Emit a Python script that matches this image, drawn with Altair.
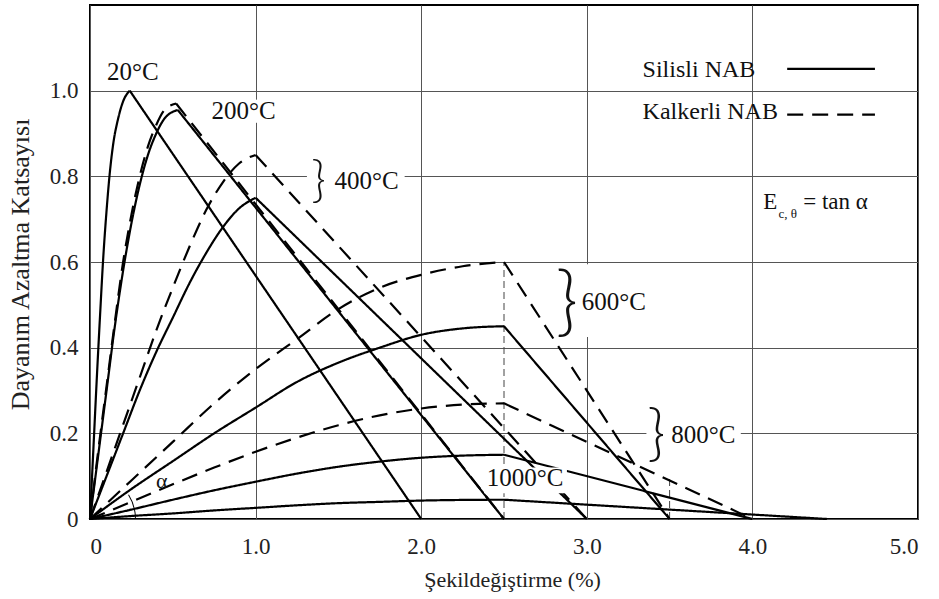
import altair as alt
import pandas as pd

FONT = "Liberation Serif"

# ---- curve data (strain %, strength reduction factor) ----
# 20°C (silisli & kalkerli coincide)
c20_x = [0, 0.02, 0.04, 0.06, 0.08, 0.10, 0.12, 0.14, 0.17, 0.20, 0.24]
c20_y = [0, 0.16, 0.32, 0.47, 0.61, 0.72, 0.81, 0.875, 0.935, 0.975, 1.0]
c20_end = 2.0

s200_x = [0, 0.05, 0.10, 0.15, 0.20, 0.25, 0.30, 0.35, 0.40, 0.45, 0.53]
s200_y = [0, 0.15, 0.30, 0.45, 0.58, 0.69, 0.78, 0.85, 0.90, 0.935, 0.955]
s200_end = 2.5

k200_x = [0, 0.05, 0.10, 0.15, 0.20, 0.25, 0.30, 0.35, 0.40, 0.45, 0.52]
k200_y = [0, 0.16, 0.31, 0.46, 0.60, 0.71, 0.80, 0.87, 0.92, 0.955, 0.97]
k200_end = 2.5

s400_x = [0, 0.10, 0.20, 0.30, 0.40, 0.50, 0.60, 0.70, 0.80, 0.90, 1.0]
s400_y = [0, 0.10, 0.20, 0.30, 0.39, 0.47, 0.55, 0.62, 0.68, 0.725, 0.75]
s400_end = 3.0

k400_x = [0, 0.10, 0.20, 0.30, 0.40, 0.50, 0.60, 0.70, 0.80, 0.90, 1.0]
k400_y = [0, 0.11, 0.22, 0.33, 0.44, 0.54, 0.635, 0.72, 0.785, 0.83, 0.85]
k400_end = 3.0

hi_x = [0, 0.25, 0.5, 0.75, 1.0, 1.25, 1.5, 1.75, 2.0, 2.25, 2.5]
s600_y = [0, 0.07, 0.135, 0.20, 0.26, 0.32, 0.365, 0.40, 0.43, 0.445, 0.45]
k600_y = [0, 0.09, 0.18, 0.27, 0.35, 0.42, 0.49, 0.54, 0.57, 0.59, 0.60]
s800_y = [0, 0.022, 0.045, 0.067, 0.087, 0.106, 0.122, 0.134, 0.143, 0.148, 0.15]
k800_y = [0, 0.04, 0.081, 0.12, 0.157, 0.19, 0.219, 0.242, 0.258, 0.267, 0.27]
s1000_y = [0, 0.007, 0.013, 0.02, 0.026, 0.032, 0.037, 0.04, 0.043, 0.0445, 0.045]
end600, end800, end1000 = 3.5, 4.0, 4.45

curves = [
    ("20", "Silisli NAB", c20_x, c20_y, c20_end),
    ("s200", "Silisli NAB", s200_x, s200_y, s200_end),
    ("k200", "Kalkerli NAB", k200_x, k200_y, k200_end),
    ("s400", "Silisli NAB", s400_x, s400_y, s400_end),
    ("k400", "Kalkerli NAB", k400_x, k400_y, k400_end),
    ("s600", "Silisli NAB", hi_x, s600_y, end600),
    ("k600", "Kalkerli NAB", hi_x, k600_y, end600),
    ("s800", "Silisli NAB", hi_x, s800_y, end800),
    ("k800", "Kalkerli NAB", hi_x, k800_y, end800),
    ("s1000", "Silisli NAB", hi_x, s1000_y, end1000),
]

rows = []
for name, kind, xs, ys, end in curves:
    for i, (a, b) in enumerate(zip(xs, ys)):
        rows.append(dict(curve=name, kind=kind, part="asc", i=i, x=a, y=b))
    rows.append(dict(curve=name, kind=kind, part="desc", i=0, x=xs[-1], y=ys[-1]))
    rows.append(dict(curve=name, kind=kind, part="desc", i=1, x=end, y=0.0))
df = pd.DataFrame(rows)

# reference dashed verticals
ref_x = [2.5, 3.5]
ref_y2 = [0.6, 0.1]
refs = pd.DataFrame(dict(x=ref_x, y=[0, 0], y2=ref_y2))

# annotations
ann_center = pd.DataFrame([
    dict(x=0.259, y=1.044, label="20°C", size=25),
    dict(x=0.928, y=0.953, label="200°C", size=25),
    dict(x=2.627, y=0.096, label="1000°C", size=25),
    dict(x=0.434, y=0.088, label="α", size=22),
])
braces = pd.DataFrame([
    dict(x=1.38, y=0.789, label="}", size=50),
    dict(x=2.88, y=0.503, label="}", size=76),
    dict(x=3.42, y=0.195, label="}", size=62),
])
ann_left = pd.DataFrame([
    dict(x=1.476, y=0.790, label="400°C", size=25),
    dict(x=2.97, y=0.507, label="600°C", size=25),
    dict(x=3.51, y=0.196, label="800°C", size=25),
    dict(x=3.337, y=1.049, label="Silisli NAB", size=24),
    dict(x=3.337, y=0.951, label="Kalkerli NAB", size=24),
    dict(x=4.066, y=0.741, label="E", size=23),
    dict(x=4.157, y=0.713, label="c, θ", size=13),
    dict(x=4.307, y=0.741, label="= tan α", size=23),
])
bg_under = pd.DataFrame([
    dict(x=1.31, x2=1.90, y=0.78, y2=0.82),
    dict(x=3.36, x2=3.93, y=0.18, y2=0.22),
    dict(x=2.95, x2=3.05, y=0.425, y2=0.595),
    dict(x=0.97, x2=1.03, y=0.925, y2=0.979),
])
bg_over = pd.DataFrame([dict(x=2.38, x2=2.88, y=0.06, y2=0.12)])
leg = pd.DataFrame([
    dict(x=4.21, x2=4.74, y=1.051, kind="Silisli NAB"),
    dict(x=4.21, x2=4.74, y=0.944, kind="Kalkerli NAB"),
])
origin = pd.DataFrame([dict(x=0.0, y=0.0)])

x_ticks = [0, 1, 2, 3, 4, 5]
y_ticks = [0, 0.2, 0.4, 0.6, 0.8, 1.0]
fmt = "datum.value == 0 ? '0' : format(datum.value, '.1f')"

X = alt.X("x:Q", scale=alt.Scale(domain=[0, 5], nice=False, zero=False),
          axis=alt.Axis(values=x_ticks, labelExpr=fmt, grid=True, ticks=False, domain=False,
                        labelPadding=16, labelFontSize=23, labelFont=FONT, labelColor="#222",
                        gridColor="#555", gridWidth=1,
                        title="Şekildeğiştirme (%)", titleFont=FONT, titleFontSize=22,
                        titleFontWeight="normal", titleColor="#222", titleX=422, titleY=60,
                        titleBaseline="middle"))
Y = alt.Y("y:Q", scale=alt.Scale(domain=[0, 1.2], nice=False, zero=False),
          axis=alt.Axis(values=y_ticks, labelExpr=fmt, grid=True, ticks=False, domain=False,
                        labelPadding=12, labelFontSize=23, labelFont=FONT, labelColor="#222",
                        gridColor="#555", gridWidth=1,
                        title="Dayanım Azaltma Katsayısı", titleFont=FONT, titleFontSize=26,
                        titleFontWeight="normal", titleColor="#222", titleX=-70, titleY=259,
                        titleBaseline="middle", titleAlign="center"))

dash_scale = alt.Scale(domain=["Silisli NAB", "Kalkerli NAB"], range=[[1, 0], [16, 9]])

under = alt.Chart(bg_under).mark_rect(color="white").encode(x=X, x2="x2:Q", y=Y, y2="y2:Q")

refl = alt.Chart(refs).mark_rule(color="#444", strokeWidth=1, strokeDash=[7, 4]).encode(
    x=X, y=Y, y2="y2:Q")

asc = alt.Chart(df).transform_filter(alt.datum.part == "asc").mark_line(
    interpolate="monotone", color="black", strokeWidth=2.2).encode(
    x=X, y=Y, detail="curve:N", order="i:Q",
    strokeDash=alt.StrokeDash("kind:N", scale=dash_scale, legend=None))
desc = alt.Chart(df).transform_filter(alt.datum.part == "desc").mark_line(
    color="black", strokeWidth=2.2).encode(
    x=X, y=Y, detail="curve:N", order="i:Q",
    strokeDash=alt.StrokeDash("kind:N", scale=dash_scale, legend=None))

over = alt.Chart(bg_over).mark_rect(color="white").encode(x=X, x2="x2:Q", y=Y, y2="y2:Q")

legl = alt.Chart(leg).mark_rule(color="black", strokeWidth=2.2).encode(
    x=X, x2="x2:Q", y=Y,
    strokeDash=alt.StrokeDash("kind:N", scale=alt.Scale(domain=["Silisli NAB", "Kalkerli NAB"],
                                                         range=[[1, 0], [17, 17]]), legend=None))

arc = alt.Chart(origin).mark_arc(radius=46, radius2=45, theta=1.01, theta2=1.5708,
                                 color="black").encode(x=X, y=Y)

t_center = alt.Chart(ann_center).mark_text(font=FONT, color="#111", align="center",
                                           baseline="middle").encode(
    x=X, y=Y, text="label:N", size=alt.Size("size:Q", scale=None, legend=None))
t_brace = alt.Chart(braces).mark_text(font="Lato", fontWeight=300, color="#111", align="center",
                                      baseline="middle").encode(
    x=X, y=Y, text="label:N", size=alt.Size("size:Q", scale=None, legend=None))
t_left = alt.Chart(ann_left).mark_text(font=FONT, color="#111", align="left",
                                       baseline="middle").encode(
    x=X, y=Y, text="label:N", size=alt.Size("size:Q", scale=None, legend=None))

chart = alt.layer(under, refl, asc, desc, over, legl, arc, t_center, t_brace, t_left).properties(
    width=828, height=514,
    padding={"left": 90, "top": 5, "right": 21, "bottom": 80},
    autosize=alt.AutoSizeParams(type="none"),
    background="white",
).configure_view(stroke="black", strokeWidth=2)

chart.save("out.html", embed_options={"renderer": "svg", "actions": False})
